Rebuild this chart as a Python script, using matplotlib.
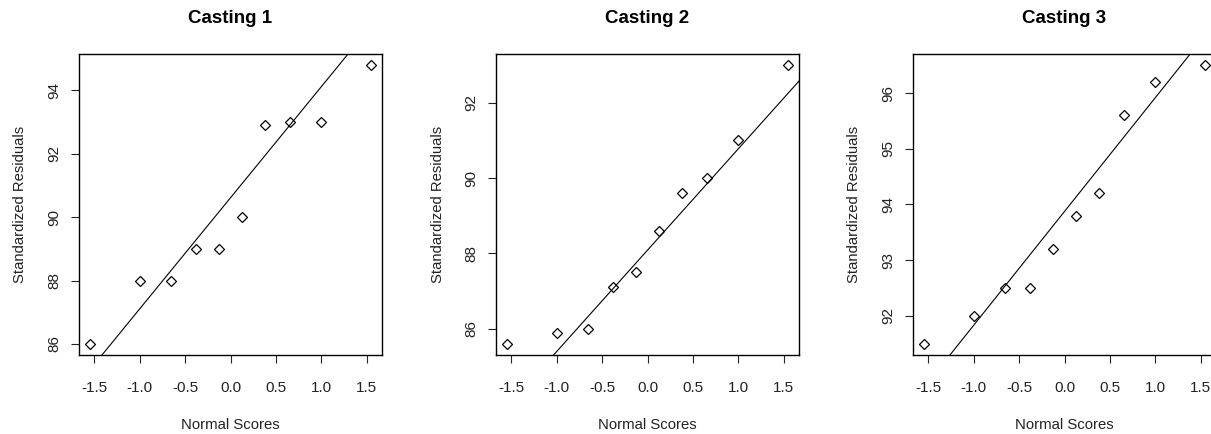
import numpy as np
import matplotlib
matplotlib.use("Agg")
import matplotlib.pyplot as plt

plt.rcParams["font.family"] = ["Liberation Sans", "DejaVu Sans"]

TITLES = ["Casting 1", "Casting 2", "Casting 3"]
NORMAL_SCORES = [-1.547, -1.000, -0.655, -0.376, -0.123,
                 0.123, 0.376, 0.655, 1.000, 1.547]
CASTING_1 = [86.0, 88.0, 88.0, 89.0, 89.0, 90.0, 92.9, 93.0, 93.0, 94.8]
CASTING_2 = [85.6, 85.9, 86.0, 87.1, 87.5, 88.6, 89.6, 90.0, 91.0, 93.0]
CASTING_3 = [91.5, 92.0, 92.5, 92.5, 93.2, 93.8, 94.2, 95.6, 96.2, 96.5]
Y_TICKS = [[86, 88, 90, 92, 94], [86, 88, 90, 92], [92, 93, 94, 95, 96]]
X_TICKS = [-1.5, -1.0, -0.5, 0.0, 0.5, 1.0, 1.5]

W, H = 1211, 434
fig = plt.figure(figsize=(W / 100, H / 100), dpi=100)
lefts = [79, 496, 913]


def r_lim(v):
    lo, hi = min(v), max(v)
    pad = 0.04 * (hi - lo)
    return lo - pad, hi + pad


for left, title, vals, yt in zip(lefts, TITLES, [CASTING_1, CASTING_2, CASTING_3], Y_TICKS):
    ax = fig.add_axes([left / W, 1 - 355 / H, 303 / W, 301 / H])
    x = np.array(NORMAL_SCORES)
    y = np.array(vals)
    ax.plot(x, y, linestyle="none", marker="D", markersize=5,
            markerfacecolor="none", markeredgecolor="black", markeredgewidth=0.9)
    # qqline: through first and third quartiles
    q1, q3 = np.percentile(y, [25, 75])
    z = 0.6744897501960817
    slope = (q3 - q1) / (2 * z)
    inter = q1 + slope * z
    xl = np.array([-3.0, 3.0])
    ax.plot(xl, inter + slope * xl, color="black", linewidth=0.8)

    ax.set_xlim(r_lim(x))
    ax.set_ylim(r_lim(y))
    ax.set_xticks(X_TICKS)
    ax.set_xticklabels([f"{t:.1f}" for t in X_TICKS])
    ax.set_yticks(yt)
    ax.set_yticklabels([str(t) for t in yt], rotation=90, va="center")
    ax.tick_params(direction="out", length=6, width=0.8, labelsize=11,
                   colors="#222222")
    ax.tick_params(axis="x", pad=13)
    ax.tick_params(axis="y", pad=7)
    for s in ax.spines.values():
        s.set_linewidth(1.0)
    ax.set_xlabel("Normal Scores", fontsize=10.7, labelpad=16, color="#222222")
    ax.set_ylabel("Standardized Residuals", fontsize=10.7, labelpad=14, color="#222222")
    ax.set_title(title, fontsize=13.5, fontweight="bold", pad=22)

fig.savefig("out.png", dpi=100)
